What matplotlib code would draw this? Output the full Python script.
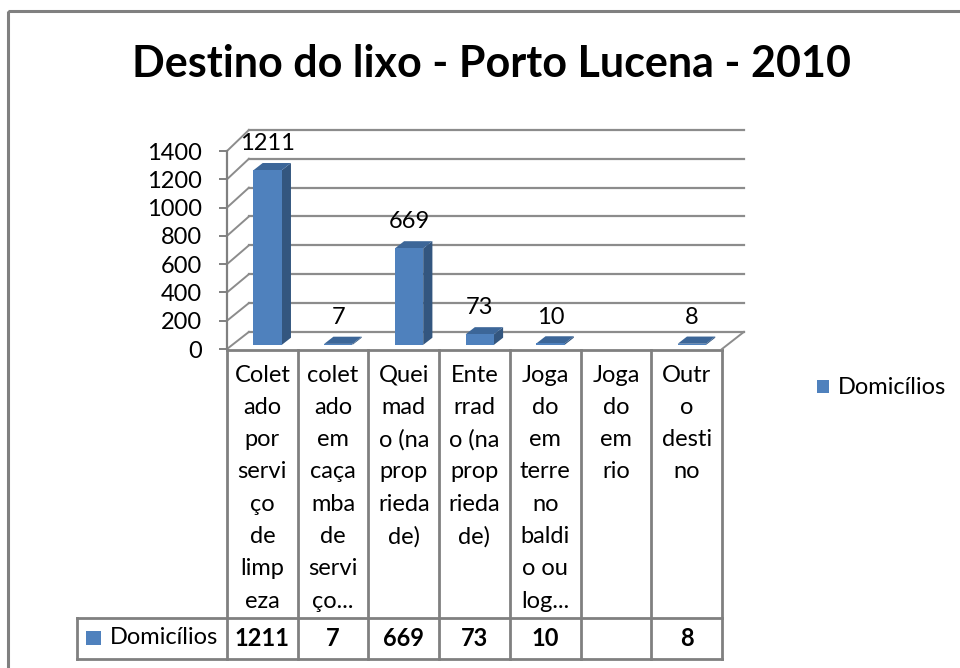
import numpy as np
import matplotlib
matplotlib.use("Agg")
import matplotlib.pyplot as plt
from matplotlib.patches import Rectangle, Polygon

plt.rcParams['font.family'] = ['Lato', 'DejaVu Sans']

# data
title = "Destino do lixo - Porto Lucena - 2010"
series_name = "Domicílios"
categories = [
    "Coletado por serviço de limpeza",
    "coletado em caçamba de serviço...",
    "Queimado (na propriedade)",
    "Enterrado (na propriedade)",
    "Jogado em terreno baldio ou log...",
    "Jogado em rio",
    "Outro destino",
]
# the wrapped text as it shows in the data table
category_lines = [
    ["Colet", "ado", "por", "servi", "ço", "de", "limp", "eza"],
    ["colet", "ado", "em", "caça", "mba", "de", "servi", "ço..."],
    ["Quei", "mad", "o (na", "prop", "rieda", "de)"],
    ["Ente", "rrad", "o (na", "prop", "rieda", "de)"],
    ["Joga", "do", "em", "terre", "no", "baldi", "o ou", "log..."],
    ["Joga", "do", "em", "rio"],
    ["Outr", "o", "desti", "no"],
]
values = [1211, 7, 669, 73, 10, None, 8]
y_ticks = [0, 200, 400, 600, 800, 1000, 1200, 1400]

BLUE = "#4F81BD"
SIDE = "#33567f"
TOP = "#3c6698"
GRID = "#8c8c8c"
LINE = "#808080"
FS = 17

W, H = 960, 668
fig = plt.figure(figsize=(W / 100, H / 100), dpi=100)

# overlay in pixel units for frame, title, table and legend
ov = fig.add_axes([0, 0, 1, 1])
ov.set_xlim(0, W)
ov.set_ylim(H, 0)
ov.axis('off')

ov.add_patch(Rectangle((8, 11), W + 20, H + 20, fill=False, edgecolor=LINE, lw=2.2, clip_on=False))
ov.text(492, 64, title, ha='center', va='center', fontsize=31, fontweight='bold')

# plot area (front plane)
px_left, px_right, px_bottom, px_top = 227, 722, 349, 151
ax = fig.add_axes([px_left / W, (H - px_bottom) / H, (px_right - px_left) / W, (px_bottom - px_top) / H])
n = len(categories)
ax.set_xlim(-0.5, n - 0.5)
ax.set_ylim(0, 1400)
ax.patch.set_visible(False)
for s in ['top', 'right', 'bottom']:
    ax.spines[s].set_visible(False)
ax.spines['left'].set_color(LINE)
ax.spines['left'].set_linewidth(1.6)
ax.set_xticks([])
ax.set_yticks(y_ticks)
ax.tick_params(axis='y', length=6, width=1.4, color=LINE, pad=12, labelsize=FS)

# depth of the 3d box in data units
DX = 0.31
DY = 121
SC = 1.02

def back(v):
    return v * SC + DY

# floor
floor = Polygon([(-0.5, 0), (n - 0.5, 0), (n - 0.5 + DX, DY), (-0.5 + DX, DY)],
                closed=True, facecolor='white', edgecolor='none', clip_on=False, zorder=1)
ax.add_patch(floor)
ax.plot([n - 0.5, n - 0.5 + DX], [0, DY], color=GRID, lw=1.4, clip_on=False, zorder=2)

# back wall and side wall gridlines
for v in y_ticks:
    ax.plot([-0.5 + DX, n - 0.5 + DX], [back(v), back(v)], color=GRID, lw=1.6, clip_on=False, zorder=2)
    ax.plot([-0.5, -0.5 + DX], [v, back(v)], color=GRID, lw=1.4, clip_on=False, zorder=2)

# 3d columns
bw = 0.4
f0, f1 = 0.24, 0.66
dxb, dyb = (f1 - f0) * DX, (f1 - f0) * DY
for i, v in enumerate(values):
    if v is None:
        continue
    x0 = i - bw / 2 + f0 * DX
    x1 = x0 + bw
    yb = f0 * DY
    yt = v * SC + f0 * DY
    ax.add_patch(Polygon([(x1, yb), (x1 + dxb, yb + dyb), (x1 + dxb, yt + dyb), (x1, yt)],
                         closed=True, facecolor=SIDE, edgecolor='none', clip_on=False, zorder=3))
    ax.add_patch(Polygon([(x0, yt), (x1, yt), (x1 + dxb, yt + dyb), (x0 + dxb, yt + dyb)],
                         closed=True, facecolor=TOP, edgecolor='none', clip_on=False, zorder=3))
    ax.add_patch(Rectangle((x0, yb), bw, yt - yb, facecolor=BLUE, edgecolor='none', clip_on=False, zorder=4))
    ax.annotate(str(v), (x0 + bw / 2, yt), xytext=(0, 19), textcoords='offset points',
                ha='center', va='center', fontsize=FS, zorder=5, annotation_clip=False)

# data table
col_w = (px_right - px_left) / n
edges = [px_left + k * col_w for k in range(n + 1)]
t_top, t_mid, t_bot, key_left = 350, 618, 659, 77
ov.plot([px_left, px_right], [t_top, t_top], color=LINE, lw=2)
ov.plot([key_left, px_right], [t_mid, t_mid], color=LINE, lw=2)
ov.plot([key_left, px_right], [t_bot, t_bot], color=LINE, lw=2)
ov.plot([key_left, key_left], [t_mid, t_bot], color=LINE, lw=2)
for x in edges:
    ov.plot([x, x], [t_top, t_bot], color=LINE, lw=2)

for i, lines in enumerate(category_lines):
    cx = edges[i] + col_w / 2
    for j, s in enumerate(lines):
        ov.text(cx, 375 + j * 32.3, s, ha='center', va='center', fontsize=FS)
    if values[i] is not None:
        ov.text(cx, 638, str(values[i]), ha='center', va='center', fontsize=FS, fontweight='bold')

ov.add_patch(Rectangle((86, 631), 15, 14, facecolor=BLUE, edgecolor='none'))
ov.text(110, 638, series_name, ha='left', va='center', fontsize=FS)

# legend
ov.add_patch(Rectangle((817, 380), 12, 13, facecolor=BLUE, edgecolor='none'))
ov.text(838, 387, series_name, ha='left', va='center', fontsize=FS)

fig.savefig("out.png", dpi=100)
